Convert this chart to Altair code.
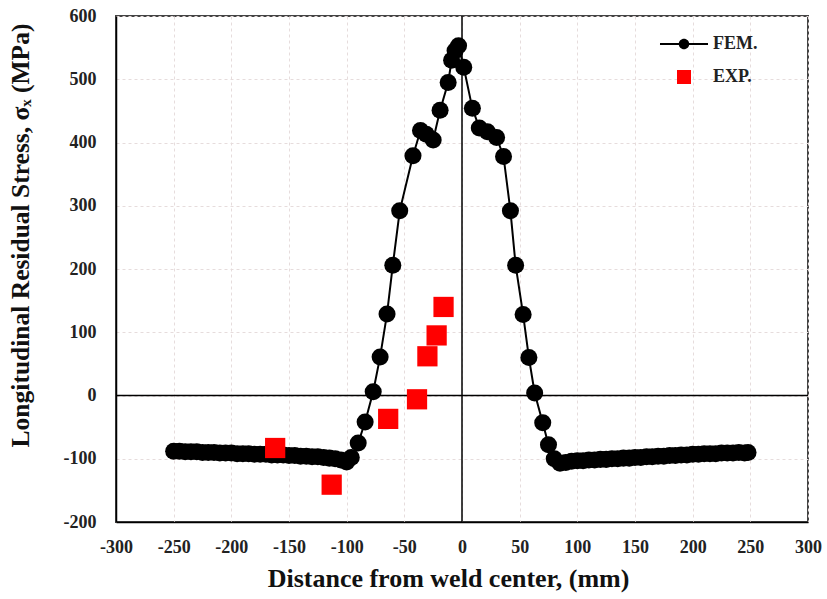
import altair as alt
import pandas as pd

# ---- data ----
fem_x = [-250, -245, -240, -235, -230, -225, -220, -215, -210, -205, -200, -195, -190, -185,
         -180, -175, -170, -165, -160, -155, -150, -145, -140, -135, -130, -125, -120, -115,
         -110, -105, -100, -96, -90, -84, -77, -71, -65, -60, -54, -42.5, -36, -31, -25, -19,
         -12, -9, -6, -3, 1.5, 9, 15, 22, 30, 36, 42, 46.5, 53, 58, 63, 70, 75, 80, 85, 90,
         95, 100, 105, 110, 115, 120, 125, 130, 135, 140, 145, 150, 155, 160, 165, 170, 175,
         180, 185, 190, 195, 200, 205, 210, 215, 220, 225, 230, 235, 240, 245, 248]
fem_y = [-88, -88, -89, -89, -89, -90, -90, -90, -91, -91, -91, -92, -92, -92,
         -93, -93, -93, -94, -94, -94, -95, -95, -96, -96, -97, -97, -98, -99,
         -100, -102, -105, -98, -75, -42, 6, 61, 129, 206, 292, 379, 419, 413, 404, 451,
         495, 530, 545, 553, 519, 454, 423, 417, 408, 378, 292, 206, 128, 60, 4, -43, -78, -100, -107, -106,
         -104, -103, -103, -102, -102, -101, -101, -100, -100, -99, -99, -98, -98, -97, -97, -96, -96,
         -95, -95, -94, -94, -93, -93, -92, -92, -92, -91, -91, -91, -90, -91, -90]
exp_x = [-162, -113, -64, -39, -30, -22, -16]
exp_y = [-83, -141, -37, -6, 62, 95, 140]
series_names = ["FEM.", "EXP."]
series_colors = ["black", "red"]
x_ticks = [-300, -250, -200, -150, -100, -50, 0, 50, 100, 150, 200, 250, 300]
y_ticks = [-200, -100, 0, 100, 200, 300, 400, 500, 600]

fem = pd.DataFrame({"x": fem_x, "y": fem_y, "Series": "FEM."})
exp = pd.DataFrame({"x": exp_x, "y": exp_y, "Series": "EXP."})
zero = pd.DataFrame({"v": [0]})

FONT = "Liberation Serif"
xs = alt.Scale(domain=[-300, 300], nice=False, zero=False)
ys = alt.Scale(domain=[-200, 600], nice=False, zero=False)

x_axis = alt.Axis(values=x_ticks, title="Distance from weld center, (mm)", ticks=False,
                  domain=True, domainColor="black", domainWidth=1.5,
                  grid=True, gridDash=[3, 3], gridColor="#e6dcdc", gridWidth=1,
                  labelExpr="datum.value + ''",
                  labelFont=FONT, labelFontWeight="bold", labelFontSize=18, labelColor="#222",
                  labelPadding=16, labelFlush=False,
                  titleFont=FONT, titleFontWeight="bold", titleFontSize=26, titleColor="#111",
                  titleX=332, titleY=56, titleBaseline="middle")
y_axis = alt.Axis(values=y_ticks, title="Longitudinal Residual Stress, σₓ (MPa)", ticks=False,
                  domain=True, domainColor="black", domainWidth=1.5,
                  grid=True, gridDash=[3, 3], gridColor="#e6dcdc", gridWidth=1,
                  labelExpr="datum.value + ''",
                  labelFont=FONT, labelFontWeight="bold", labelFontSize=18, labelColor="#222",
                  labelPadding=20, labelFlush=False,
                  titleFont=FONT, titleFontWeight="bold", titleFontSize=25.5, titleColor="#111",
                  titleX=-96, titleY=219, titleBaseline="middle", titleAngle=-90)

X = alt.X("x:Q", scale=xs, axis=x_axis)
Y = alt.Y("y:Q", scale=ys, axis=y_axis)

vline = alt.Chart(zero).mark_rule(color="black", strokeWidth=1.5).encode(x=alt.X("v:Q", scale=xs))
hline = alt.Chart(zero).mark_rule(color="black", strokeWidth=1.5).encode(y=alt.Y("v:Q", scale=ys))

fem_line = alt.Chart(fem).mark_line(color="black", strokeWidth=2).encode(x=X, y=Y)
fem_pts = alt.Chart(fem).mark_point(filled=True, shape="circle", size=290, color="black",
                                    opacity=1).encode(x=X, y=Y)
exp_pts = alt.Chart(exp).mark_point(filled=True, shape="square", size=410, color="red",
                                    opacity=1).encode(x=X, y=Y)

fem_symbol = ("M-3.43,-0.14H3.43V0.14H-3.43Z "
              "M0.75,0A0.75,0.75 0 1,1 -0.75,0A0.75,0.75 0 1,1 0.75,0Z")
legend = alt.Legend(orient="none", legendX=559, legendY=19, title=None, padding=0,
                    direction="vertical", symbolSize=196, symbolStrokeWidth=0, symbolOpacity=1,
                    labelFont=FONT, labelFontWeight="bold", labelFontSize=18, labelColor="#222",
                    labelOffset=20, rowPadding=15, labelBaseline="middle")
legend_layer = alt.Chart(pd.concat([fem, exp])).transform_filter("false").mark_point(
    filled=True, opacity=1).encode(
    x=X, y=Y,
    color=alt.Color("Series:N", scale=alt.Scale(domain=series_names, range=series_colors),
                    legend=legend),
    shape=alt.Shape("Series:N", scale=alt.Scale(domain=series_names, range=[fem_symbol, "square"]),
                    legend=legend),
)

chart = alt.layer(vline, hline, fem_line, fem_pts, exp_pts, legend_layer).properties(
    width=692, height=506,
    autosize=alt.AutoSizeParams(type="none"),
    padding={"left": 116, "top": 16, "right": 19, "bottom": 77},
    background="white",
).configure_view(stroke="#444", strokeWidth=2)

chart.save("out.html", embed_options={"renderer": "svg", "actions": False})
